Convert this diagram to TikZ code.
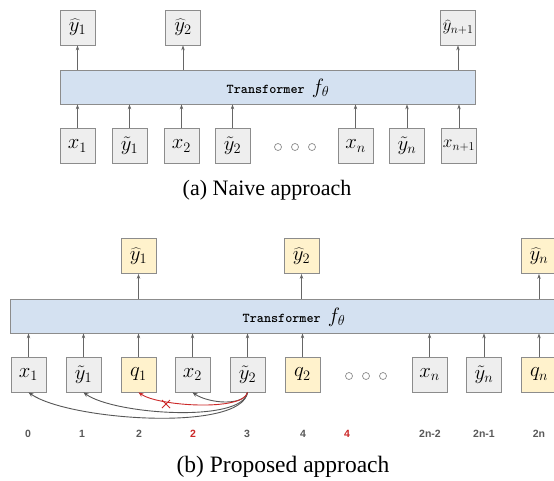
\documentclass[tikz,border=0pt]{standalone}
\usepackage{fontspec}
\usetikzlibrary{arrows.meta,shapes.misc}
\newfontfamily\capfont{Liberation Serif}
\newfontfamily\numfont{Liberation Sans}
\definecolor{boxgray}{HTML}{EEEEEE}
\definecolor{boxyel}{HTML}{FFF2CC}
\definecolor{barblue}{HTML}{D4E1F1}
\definecolor{edge}{HTML}{8C8C8C}
\definecolor{arrcol}{HTML}{666666}
\definecolor{numgray}{HTML}{595959}
\definecolor{redc}{HTML}{CC2929}
\begin{document}
\begin{tikzpicture}[x=1pt,y=-1pt,
  gb/.style={draw=edge,fill=boxgray,line width=0.8pt,minimum width=35pt,minimum height=35pt,inner sep=0pt,font=\fontsize{20}{24}\selectfont},
  gbs/.style={gb,font=\fontsize{17}{20}\selectfont},
  yb/.style={gb,fill=boxyel},
  barbox/.style={draw=edge,fill=barblue,line width=0.8pt,minimum height=34pt,inner sep=0pt},
  arr/.style={draw=arrcol,line width=0.7pt,-{Stealth[length=5pt,width=3.5pt]}},
  arcg/.style={draw=arrcol!85!black,line width=0.9pt,-{Stealth[length=5pt,width=4pt]}},
  arcr/.style={arcg,draw=redc},
  dotc/.style={circle,draw=edge,fill=white,line width=0.7pt,minimum size=7pt,inner sep=0pt},
  tlab/.style={inner sep=0pt,font=\fontsize{13.5}{16}\selectfont},
  numlab/.style={inner sep=0pt,text=numgray,font=\numfont\bfseries\fontsize{10.5}{12}\selectfont},
  captxt/.style={inner sep=0pt,font=\capfont\fontsize{22}{26}\selectfont}]
\clip (0,0) rectangle (554,480);
\fill[white] (0,0) rectangle (554,480);
% ---------- (a) ----------
\node[gb] (at1) at (77.5,27.5) {$\widehat{y}_1$};
\node[gb] (at2) at (183,27.5) {$\widehat{y}_2$};
\node[gbs] (at3) at (458,27.5) {$\widehat{y}_{n+1}$};
\node[barbox,minimum width=415pt] (abar) at (267.5,87) {};
\node[tlab] (alab) at (278,88) {\ttfamily\bfseries Transformer \fontsize{20}{24}\selectfont$f_\theta$};
\node[gb] (ab1) at (77.5,146) {$x_1$};
\node[gb] (ab2) at (129.5,146) {$\tilde{y}_1$};
\node[gb] (ab3) at (181.5,146) {$x_2$};
\node[gb] (ab4) at (232.5,146) {$\tilde{y}_2$};
\node[gb] (ab5) at (355.5,146) {$x_n$};
\node[gb] (ab6) at (407,146) {$\tilde{y}_n$};
\node[gbs] (ab7) at (459,146) {$x_{n+1}$};
\node[dotc] (ad1) at (278,147) {};
\node[dotc] (ad2) at (295,147) {};
\node[dotc] (ad3) at (312,147) {};
\foreach \n in {ab1,ab2,ab3,ab4,ab5,ab6,ab7}
  \draw[arr] (\n.north) -- (\n.north |- abar.south);
\foreach \n in {at1,at2,at3}
  \draw[arr] (\n.south |- abar.north) -- (\n.south);
\node[captxt] (capa) at (267,190) {(a) Naive approach};
% ---------- (b) ----------
\node[yb] (bt1) at (138.5,256) {$\widehat{y}_1$};
\node[yb] (bt2) at (301.5,256) {$\widehat{y}_2$};
\node[yb] (bt3) at (539,256) {$\widehat{y}_n$};
\node[barbox,minimum width=560pt] (bbar) at (290,316) {};
\node[tlab] (blab) at (294,317) {\ttfamily\bfseries Transformer \fontsize{20}{24}\selectfont$f_\theta$};
\node[gb] (bb1) at (28.5,374.5) {$x_1$};
\node[gb] (bb2) at (83.5,374.5) {$\tilde{y}_1$};
\node[yb] (bb3) at (138.5,374.5) {$q_1$};
\node[gb] (bb4) at (192.5,374.5) {$x_2$};
\node[gb] (bb5) at (247.5,374.5) {$\tilde{y}_2$};
\node[yb] (bb6) at (302.5,374.5) {$q_2$};
\node[gb] (bb7) at (429.5,374.5) {$x_n$};
\node[gb] (bb8) at (484,374.5) {$\tilde{y}_n$};
\node[yb] (bb9) at (539,374.5) {$q_n$};
\node[dotc] (bd1) at (349,376) {};
\node[dotc] (bd2) at (366,376) {};
\node[dotc] (bd3) at (383,376) {};
\foreach \n in {bb1,bb2,bb3,bb4,bb5,bb6,bb7,bb8,bb9}
  \draw[arr] (\n.north) -- (\n.north |- bbar.south);
\foreach \n in {bt1,bt2,bt3}
  \draw[arr] (\n.south |- bbar.north) -- (\n.south);
% attention arcs
\draw[arcg] (bb5.south) .. controls +(-6,40) and +(40,28) .. (bb1.south);
\draw[arcg] (bb5.south) .. controls +(-5,31) and +(30,22) .. (bb2.south);
\draw[arcg] (bb5.south) .. controls +(-4,14) and +(16,11) .. (bb4.south);
\draw[arcr] (bb5.south) .. controls +(-4,19) and +(20,14) .. (bb3.south);
\node[cross out,draw=redc,line width=1pt,minimum size=7pt,inner sep=0pt] (xm) at (166,404) {};
% position labels
\node[numlab] (n0) at (28,434) {0};
\node[numlab] (n1) at (82,434) {1};
\node[numlab] (n2) at (139,434) {2};
\node[numlab,text=redc] (n3) at (193,434) {2};
\node[numlab] (n4) at (247,434) {3};
\node[numlab] (n5) at (303,434) {4};
\node[numlab,text=redc] (n6) at (347,434) {4};
\node[numlab] (n7) at (430,434) {2n-2};
\node[numlab] (n8) at (484,434) {2n-1};
\node[numlab] (n9) at (539,434) {2n};
\node[captxt,font=\capfont\fontsize{23.5}{28}\selectfont] (capb) at (283,467) {(b) Proposed approach};
\end{tikzpicture}
\end{document}
